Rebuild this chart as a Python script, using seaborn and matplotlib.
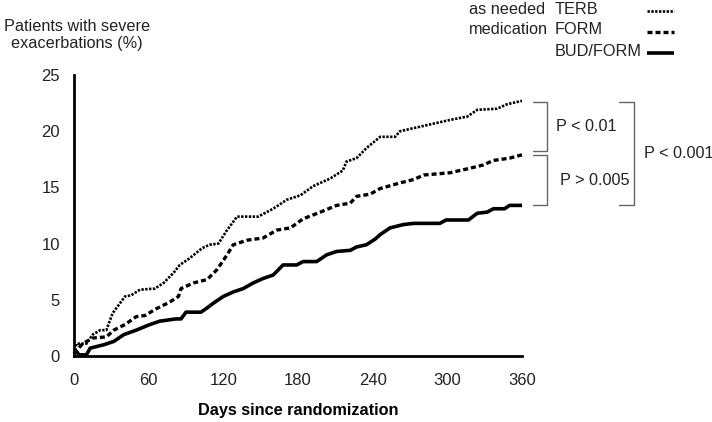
import matplotlib
matplotlib.use("Agg")
import matplotlib.pyplot as plt
import matplotlib.transforms as mtransforms
from matplotlib.lines import Line2D
import seaborn as sns
import pandas as pd

# ---- data ----
terb_days = [0, 2, 10, 15, 21, 26, 31, 41, 46, 53, 65, 72, 80, 85, 93, 103, 109, 116, 123, 131,
             148, 160, 171, 182, 192, 206, 216, 219, 227, 235, 246, 258, 262, 278, 286, 302,
             316, 324, 340, 348, 360]
terb_vals = [0.2, 1.1, 1.1, 1.9, 2.3, 2.3, 3.8, 5.3, 5.4, 5.9, 6.0, 6.5, 7.4, 8.1, 8.7, 9.6, 9.9, 10.0, 11.2, 12.4,
             12.4, 13.1, 13.9, 14.3, 15.1, 15.8, 16.5, 17.3, 17.6, 18.5, 19.5, 19.5, 20.0, 20.4, 20.6, 21.0,
             21.3, 21.9, 22.0, 22.4, 22.7]

form_days = [0, 2, 7, 15, 26, 32, 41, 50, 57, 66, 77, 84, 86, 96, 107, 115, 123, 128, 139, 152,
             163, 174, 184, 198, 211, 222, 227, 238, 246, 262, 273, 281, 302, 318, 329, 337, 350, 360]
form_vals = [0.2, 0.5, 1.1, 1.6, 1.7, 2.3, 2.8, 3.5, 3.6, 4.2, 4.8, 5.3, 6.0, 6.5, 6.8, 7.7, 9.0, 9.9, 10.3, 10.5,
             11.2, 11.4, 12.2, 12.8, 13.4, 13.6, 14.2, 14.4, 14.9, 15.4, 15.7, 16.1, 16.3, 16.7, 17.0, 17.4, 17.6, 17.9]

bud_days = [0, 2, 4, 10, 13, 24, 32, 40, 50, 61, 69, 82, 86, 90, 102, 106, 112, 120, 128, 136, 144, 152,
            160, 168, 179, 184, 195, 203, 211, 222, 227, 235, 242, 246, 254, 265, 273, 294, 299,
            317, 324, 332, 337, 346, 350, 360]
bud_vals = [0.4, 0.4, 0.1, 0.1, 0.7, 1.0, 1.3, 1.9, 2.3, 2.8, 3.1, 3.3, 3.3, 3.9, 3.9, 4.2, 4.7, 5.3, 5.7, 6.0, 6.5, 6.9,
            7.2, 8.1, 8.1, 8.4, 8.4, 9.0, 9.3, 9.4, 9.7, 9.9, 10.4, 10.8, 11.4, 11.7, 11.8, 11.8, 12.1,
            12.1, 12.7, 12.8, 13.1, 13.1, 13.4, 13.4]

series_names = ["TERB", "FORM", "BUD/FORM"]
x_ticks = [0, 60, 120, 180, 240, 300, 360]
y_ticks = [0, 5, 10, 15, 20, 25]
p_labels = ["P < 0.01", "P > 0.005", "P < 0.001"]

# ---- style ----
sns.set_style("white")
plt.rcParams["font.family"] = ["Liberation Sans", "DejaVu Sans"]
TXT = "#222222"
GRAY = "#666666"
FS = 11.7

fig = plt.figure(figsize=(7.12, 4.22), dpi=100)
ax = fig.add_axes([74 / 712, 1 - 356 / 422, 448 / 712, 281 / 422])

styles = {
    "TERB": dict(lw=1.9, linestyle=(0, (0.9, 0.55))),
    "FORM": dict(lw=2.4, linestyle=(0, (1.5, 0.9))),
    "BUD/FORM": dict(lw=2.6, linestyle="-"),
}
data = {"TERB": (terb_days, terb_vals), "FORM": (form_days, form_vals), "BUD/FORM": (bud_days, bud_vals)}
for name in series_names:
    d, v = data[name]
    df = pd.DataFrame({"day": d, "pct": v})
    sns.lineplot(data=df, x="day", y="pct", ax=ax, color="black", clip_on=False,
                 solid_capstyle="butt", dash_capstyle="butt", **styles[name])

ax.set_xlim(0, 360)
ax.set_ylim(0, 25)
ax.set_xticks(x_ticks)
ax.set_yticks(y_ticks)
ax.set_xticklabels([str(t) for t in x_ticks])
ax.set_yticklabels([str(t) for t in y_ticks])
sns.despine(ax=ax)
for s in ("left", "bottom"):
    ax.spines[s].set_linewidth(2.0)
    ax.spines[s].set_color("black")
ax.tick_params(axis="both", direction="out", length=4, width=1, color="#444444",
               labelsize=12, labelcolor=TXT)
ax.tick_params(axis="y", pad=6)
ax.tick_params(axis="x", pad=8)
ax.set_ylabel("")
ax.set_xlabel("Days since randomization", fontsize=11.7, fontweight="bold", color="black", labelpad=11)

fig.text(77 / 712, 1 - 35 / 422, "Patients with severe\nexacerbations (%)", ha="center", va="center",
         fontsize=FS, color=TXT, linespacing=1.2)

# ---- legend drawn as text + sample lines ----
fig.text(469 / 712, 1 - 9 / 422, "as needed", ha="left", va="center", fontsize=FS, color=TXT)
fig.text(469 / 712, 1 - 29 / 422, "medication", ha="left", va="center", fontsize=FS, color=TXT)
leg_y = [9, 30, 51]
for name, yy in zip(series_names, leg_y):
    fig.text(555 / 712, 1 - yy / 422, name, ha="left", va="center", fontsize=FS, color=TXT)
    fig.add_artist(Line2D([647 / 712, 674 / 712], [1 - (yy + 2) / 422] * 2, transform=fig.transFigure,
                          color="black", solid_capstyle="butt", dash_capstyle="butt", **styles[name]))

# ---- significance brackets ----
tr = mtransforms.blended_transform_factory(ax.transAxes, ax.transData)
ends = [terb_vals[-1] - 0.1, form_vals[-1], bud_vals[-1]]
def bracket(x0, x1, ytop, ybot):
    ax.plot([x0, x1, x1, x0], [ytop, ytop, ybot, ybot], transform=tr, color=GRAY, lw=1.0, clip_on=False)

bracket(1.025, 1.056, ends[0], ends[1] + 0.35)
bracket(1.025, 1.056, ends[1], ends[2])
bracket(1.217, 1.250, ends[0], ends[2] + 0.05)
ax.text(1.076, (ends[0] + ends[1] + 0.35) / 2, p_labels[0], transform=tr, ha="left", va="center",
        fontsize=FS, color=TXT)
ax.text(1.085, (ends[1] + ends[2]) / 2, p_labels[1], transform=tr, ha="left", va="center",
        fontsize=FS, color=TXT)
ax.text(1.272, (ends[0] + ends[2]) / 2, p_labels[2], transform=tr, ha="left", va="center",
        fontsize=FS, color=TXT)

fig.savefig("out.png", dpi=100, facecolor="white")
